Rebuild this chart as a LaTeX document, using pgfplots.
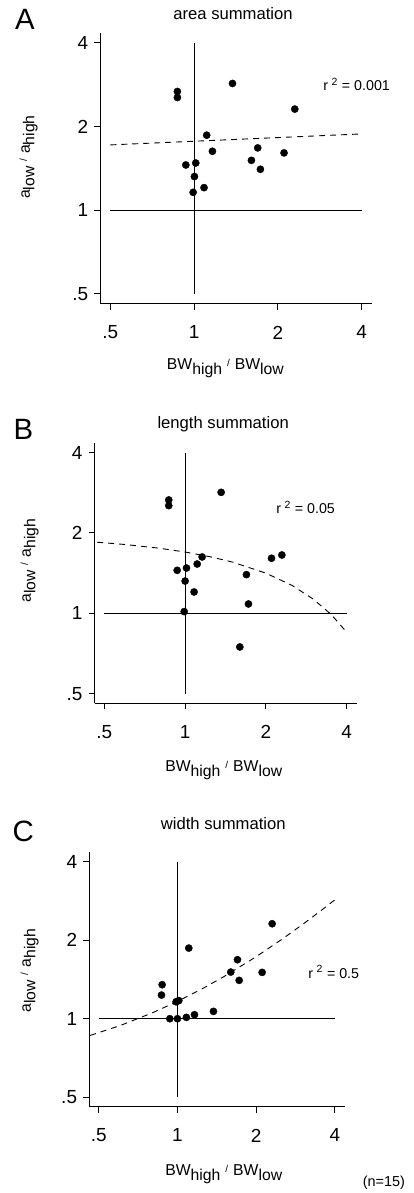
\documentclass[border=0pt]{standalone}
\usepackage{fontspec}
\setmainfont{Liberation Sans}
\usepackage{pgfplots}
\pgfplotsset{compat=1.18}
\usepackage{pgfplotstable}

\newcommand{\fs}[1]{\fontsize{#1}{#1}\selectfont}
\newcommand{\sub}[1]{\raisebox{-4.5bp}{#1}}
\newcommand{\slashsym}{\hspace{5bp}{\fs{10}\raisebox{3bp}{/}}\hspace{5bp}}
\newcommand{\xlab}{{\fs{15.8}BW\sub{high}\slashsym BW\sub{low}}}
\newcommand{\ylab}{{\fs{15.8}a\sub{low}\slashsym a\sub{high}}}
\newcommand{\rsq}[1]{{\fs{14.3}r\hspace{3.5bp}\raisebox{5.5bp}{\fs{10.5}2}\hspace{4.5bp}= #1}}

\pgfplotstableread{
x y
0.871 2.672
0.871 2.542
1.374 2.856
2.301 2.309
1.110 1.860
1.164 1.628
0.934 1.453
1.014 1.477
1.003 1.320
0.992 1.158
1.086 1.204
1.607 1.510
1.693 1.674
1.731 1.402
2.105 1.606
}\dataA

\pgfplotstableread{
x y
0.869 2.659
0.869 2.532
1.362 2.840
0.934 1.449
1.012 1.478
1.000 1.321
0.992 1.015
1.080 1.202
1.109 1.530
1.157 1.626
1.692 1.396
1.722 1.084
1.599 0.748
2.098 1.608
2.293 1.654
}\dataB

\pgfplotstableread{
x y
0.874 1.350
0.869 1.232
1.105 1.865
0.988 1.161
1.012 1.173
0.935 1.000
1.000 1.000
1.082 1.012
1.162 1.036
1.373 1.067
1.599 1.509
1.696 1.683
1.721 1.403
2.107 1.505
2.301 2.312
}\dataC

\begin{document}
\begin{tikzpicture}
\path[use as bounding box] (0,0) rectangle (414bp,-1193bp);

% ---------------- Panel A
\begin{axis}[
    scale only axis, clip=false,
    xmode=log, ymode=log, log basis x=2, log basis y=2,
    xmin=0.46, xmax=4.35, ymin=0.46, ymax=4.35,
    axis lines=left, axis line style={-, line width=1.2bp, black},
    xtick={0.5,1,2,4}, xticklabels={.5,1,2,4},
    ytick={0.5,1,2,4}, yticklabels={.5,1,2,4},
    tick align=outside, major tick length=6bp,
    major tick style={line width=1bp, black},
    xticklabel style={font=\fs{19}, anchor=north, inner sep=0pt, yshift=-16bp},
    yticklabel style={font=\fs{19}, anchor=east, inner sep=0pt, xshift=-6bp},
    width=271.6bp, height=271bp, at={(100.2bp,-303.7bp)}, anchor=south west]
\addplot[no marks, black, line width=1bp] coordinates {(0.5,1) (4,1)};
\addplot[no marks, black, line width=0.6bp] coordinates {(1,0.5) (1,4)};
\addplot[no marks, black, line width=0.9bp, dash pattern=on 6bp off 5bp] coordinates {(0.5,1.716) (4,1.880)};
\addplot[only marks, mark=*, mark size=3.6bp, black] table[x=x,y=y] {\dataA};
\node[anchor=base] at (axis description cs:0.489,1.047) {\fs{16.7}area summation};
\node[anchor=base] at (axis description cs:-0.277,1.0125) {\fs{29.5}A};
\node[anchor=base] at (axis description cs:0.461,-0.2446) {\xlab};
\node[anchor=base, rotate=90] at (axis description cs:-0.2585,0.541) {\ylab};
\node[anchor=base west, inner sep=0pt] at (axis description cs:0.821,0.786) {\rsq{0.001}};
\end{axis}

% ---------------- Panel B
\begin{axis}[
    scale only axis, clip=false,
    xmode=log, ymode=log, log basis x=2, log basis y=2,
    xmin=0.46, xmax=4.35, ymin=0.46, ymax=4.35,
    axis lines=left, axis line style={-, line width=1.2bp, black},
    xtick={0.5,1,2,4}, xticklabels={.5,1,2,4},
    ytick={0.5,1,2,4}, yticklabels={.5,1,2,4},
    tick align=outside, major tick length=6bp,
    major tick style={line width=1bp, black},
    xticklabel style={font=\fs{19}, anchor=north, inner sep=0pt, yshift=-16bp},
    yticklabel style={font=\fs{19}, anchor=east, inner sep=0pt, xshift=-6bp},
    width=261.9bp, height=260.4bp, at={(94.6bp,-703.3bp)}, anchor=south west]
\addplot[no marks, black, line width=0.8bp] coordinates {(0.5,1) (4,1)};
\addplot[no marks, black, line width=0.6bp] coordinates {(1,0.5) (1,4)};
\addplot[no marks, black, line width=0.9bp, dash pattern=on 6bp off 5bp] coordinates {(0.47,1.847) (0.6,1.810) (0.8,1.754) (1.0,1.697) (1.25,1.626) (1.5,1.556) (2.0,1.414) (2.5,1.273) (3.0,1.131) (3.5,0.990) (3.95,0.862)};
\addplot[only marks, mark=*, mark size=3.6bp, black] table[x=x,y=y] {\dataB};
\node[anchor=base] at (axis description cs:0.491,1.056) {\fs{16.7}length summation};
\node[anchor=base] at (axis description cs:-0.272,1.014) {\fs{29.5}B};
\node[anchor=base] at (axis description cs:0.493,-0.263) {\xlab};
\node[anchor=base, rotate=90] at (axis description cs:-0.243,0.548) {\ylab};
\node[anchor=base west, inner sep=0pt] at (axis description cs:0.693,0.727) {\rsq{0.05}};
\end{axis}

% ---------------- Panel C
\begin{axis}[
    scale only axis, clip=false,
    xmode=log, ymode=log, log basis x=2, log basis y=2,
    xmin=0.46, xmax=4.35, ymin=0.46, ymax=4.35,
    axis lines=left, axis line style={-, line width=1.2bp, black},
    xtick={0.5,1,2,4}, xticklabels={.5,1,2,4},
    ytick={0.5,1,2,4}, yticklabels={.5,1,2,4},
    tick align=outside, major tick length=6bp,
    major tick style={line width=1bp, black},
    xticklabel style={font=\fs{19}, anchor=north, inner sep=0pt, yshift=-16bp},
    yticklabel style={font=\fs{19}, anchor=east, inner sep=0pt, xshift=-6bp},
    width=255.3bp, height=254.6bp, at={(89.2bp,-1106.7bp)}, anchor=south west]
\addplot[no marks, black, line width=1bp] coordinates {(0.5,1) (4,1)};
\addplot[no marks, black, line width=1bp] coordinates {(1,0.5) (1,4)};
\addplot[no marks, black, line width=0.9bp, dash pattern=on 6bp off 5bp] coordinates {(0.464,0.863) (0.6,0.939) (0.8,1.052) (1.0,1.165) (1.25,1.306) (1.5,1.447) (2.0,1.729) (2.5,2.011) (3.0,2.293) (3.5,2.575) (4.0,2.857)};
\addplot[only marks, mark=*, mark size=3.6bp, black] table[x=x,y=y] {\dataC};
\node[anchor=base] at (axis description cs:0.525,1.087) {\fs{16.7}width summation};
\node[anchor=base] at (axis description cs:-0.258,1.041) {\fs{29.5}C};
\node[anchor=base] at (axis description cs:0.527,-0.272) {\xlab};
\node[anchor=base, rotate=90] at (axis description cs:-0.228,0.534) {\ylab};
\node[anchor=base west, inner sep=0pt] at (axis description cs:0.858,0.504) {\rsq{0.5}};
\node[anchor=base west, inner sep=0pt] at (axis description cs:1.071,-0.315) {\fs{14.5}(n=15)};
\end{axis}
\end{tikzpicture}
\end{document}
